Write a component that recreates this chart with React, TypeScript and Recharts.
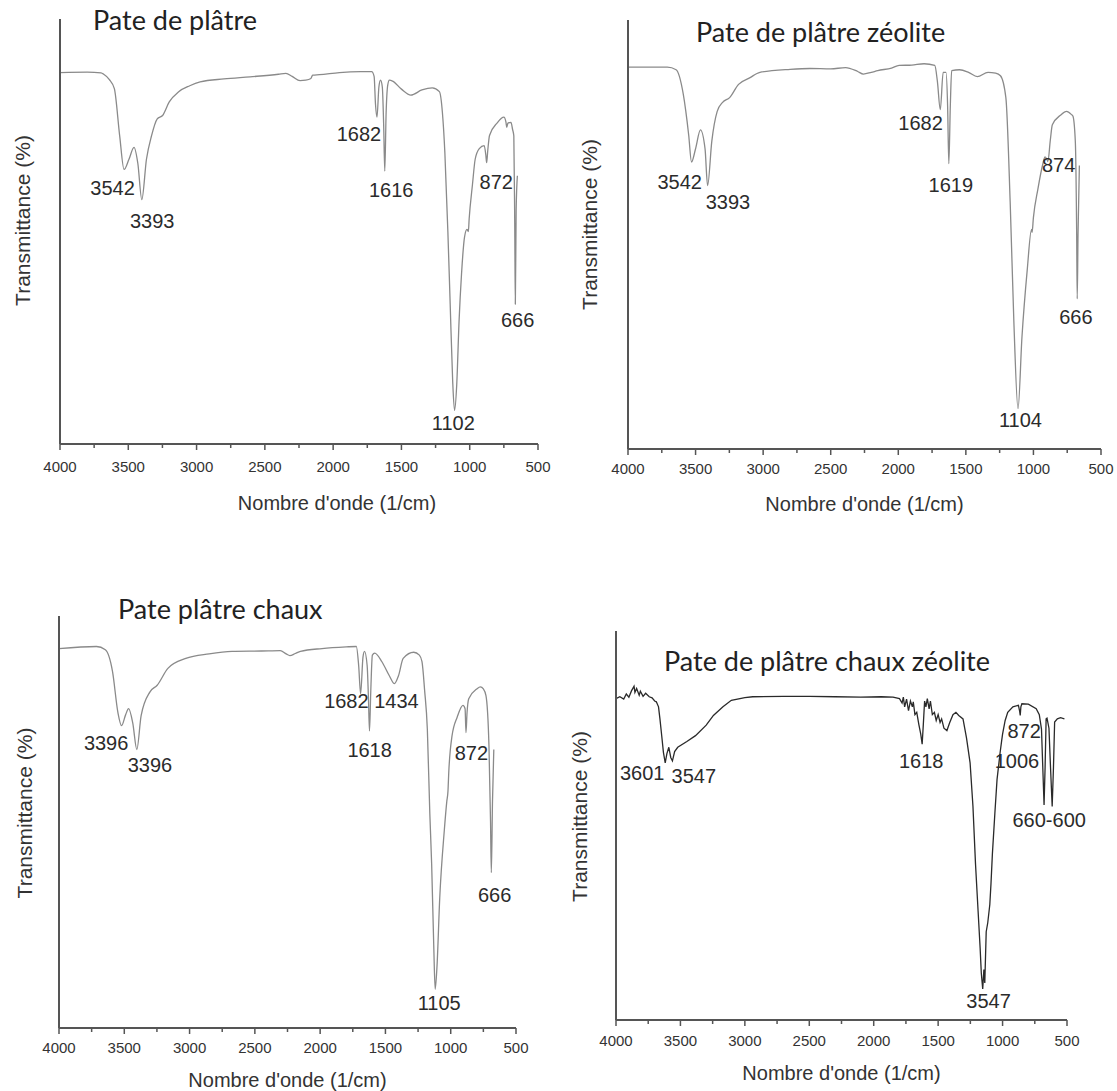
import React from 'react';
import { LineChart, Line, XAxis, YAxis, ReferenceDot, Label } from 'recharts';

// wavenumber ticks (major every 500, minor every 250)
const xTicks = [4000, 3750, 3500, 3250, 3000, 2750, 2500, 2250, 2000, 1750, 1500, 1250, 1000, 750, 500];

// Pate de plâtre
const wn1 = [4000, 3800, 3700, 3680, 3640, 3602, 3563, 3531, 3495, 3458, 3430, 3401, 3367, 3330, 3288, 3249, 3200, 3131, 3050, 2974, 2800, 2608, 2400, 2346, 2300, 2242, 2200, 2163, 2150, 2100, 1954, 1800, 1718, 1700, 1690, 1679, 1665, 1653, 1640, 1630, 1622, 1612, 1600, 1588, 1565, 1500, 1431, 1350, 1274, 1222, 1200, 1182, 1160, 1143, 1125, 1111, 1095, 1078, 1060, 1038, 1020, 1010, 1004, 980, 960, 930, 894, 882, 876, 868, 855, 800, 750, 735, 729, 720, 698, 686, 677, 670, 666, 660, 651];
const t1 = [87.4, 87.5, 87.3, 87.0, 85.8, 83.6, 72.5, 64.6, 67.0, 69.8, 66.0, 57.5, 67.0, 72.5, 76.5, 77.3, 80.5, 82.9, 84.3, 85.2, 85.9, 86.4, 87.0, 87.2, 86.5, 85.5, 85.6, 86.0, 86.8, 86.9, 87.4, 87.6, 87.6, 86.5, 80.0, 76.9, 84.0, 85.6, 84.0, 75.0, 64.2, 78.0, 84.5, 85.6, 85.4, 83.5, 82.1, 83.3, 83.8, 82.9, 78.0, 68.6, 50.0, 32.9, 15.0, 7.9, 14.0, 28.9, 40.0, 48.7, 50.5, 50.0, 53.0, 61.0, 67.0, 69.5, 70.2, 68.0, 66.2, 69.0, 72.6, 75.5, 76.9, 75.8, 74.5, 75.5, 75.7, 74.0, 72.5, 50.0, 32.9, 55.0, 63.1];
const peaks1 = ['3542', '3393', '1682', '1616', '872', '666', '1102'];
const peakAt1 = [[3615, 60.2], [3325, 52.6], [1811, 72.9], [1575, 59.8], [806, 61.7], [649, 29.3], [1120, 5.0]];

// Pate de plâtre zéolite
const wn2 = [4000, 3709, 3644, 3591, 3551, 3530, 3500, 3464, 3430, 3411, 3380, 3340, 3300, 3248, 3182, 3100, 3024, 2800, 2654, 2500, 2390, 2300, 2258, 2200, 2152, 2050, 1994, 1900, 1809, 1730, 1711, 1689, 1668, 1647, 1635, 1626, 1615, 1605, 1547, 1480, 1415, 1336, 1280, 1244, 1204, 1172, 1145, 1114, 1085, 1046, 1014, 1010, 1000, 967, 930, 914, 900, 893, 875, 860, 800, 755, 720, 708, 690, 680, 676, 670, 660];
const t2 = [89.0, 89.0, 88.4, 82.7, 73.2, 66.9, 70.0, 74.4, 70.0, 61.4, 71.7, 78.7, 80.8, 81.9, 85.0, 86.5, 87.8, 88.5, 88.7, 88.6, 88.9, 88.0, 87.4, 87.8, 88.2, 88.8, 89.4, 89.5, 89.8, 89.4, 85.8, 79.1, 87.8, 87.8, 80.0, 66.5, 80.0, 88.2, 88.4, 87.8, 86.8, 87.8, 87.6, 87.0, 81.9, 57.5, 29.9, 9.4, 26.0, 41.7, 51.2, 50.5, 54.0, 60.6, 66.5, 68.1, 67.5, 67.0, 72.0, 75.6, 77.8, 78.7, 78.0, 77.6, 71.7, 50.0, 35.0, 50.0, 66.1];
const peaks2 = ['3542', '3393', '1682', '1619', '874', '666', '1104'];
const peakAt2 = [[3617, 62.2], [3260, 57.5], [1835, 76.0], [1611, 61.5], [813, 66.2], [686, 30.8], [1096, 6.7]];

// Pate plâtre chaux
const wn3 = [4000, 3713, 3645, 3590, 3549, 3521, 3490, 3467, 3435, 3404, 3371, 3303, 3248, 3166, 3029, 2850, 2675, 2450, 2305, 2260, 2232, 2190, 2151, 1986, 1800, 1723, 1705, 1690, 1672, 1660, 1640, 1630, 1622, 1612, 1600, 1582, 1527, 1470, 1431, 1400, 1364, 1283, 1240, 1220, 1200, 1179, 1160, 1146, 1130, 1119, 1105, 1084, 1049, 1030, 1021, 1015, 990, 950, 906, 890, 883, 875, 862, 800, 773, 750, 730, 707, 695, 689, 680, 670];
const t3 = [92.1, 92.6, 91.8, 86.5, 76.6, 73.4, 76.0, 77.5, 74.0, 67.6, 75.8, 81.6, 83.2, 87.3, 89.7, 90.8, 91.4, 91.5, 91.6, 90.8, 90.4, 90.9, 91.4, 92.1, 92.5, 92.6, 88.0, 81.1, 90.0, 91.4, 88.0, 80.0, 72.1, 82.0, 90.5, 91.0, 88.9, 85.5, 83.6, 85.5, 89.7, 91.2, 90.5, 88.9, 82.0, 72.5, 52.0, 39.8, 20.0, 9.4, 15.0, 31.6, 48.0, 55.0, 57.5, 62.0, 70.9, 75.5, 78.3, 77.5, 71.7, 76.5, 79.9, 82.3, 82.8, 82.3, 80.7, 68.4, 50.0, 37.7, 55.0, 67.6];
const peaks3 = ['3396', '3396', '1682', '1434', '1618', '872', '666', '1105'];
const peakAt3 = [[3639, 69.3], [3303, 63.9], [1799, 79.5], [1416, 79.5], [1621, 67.4], [842, 66.8], [664, 32.4], [1088, 6.1]];

// Pate de plâtre chaux zéolite
const wn4 = [4000, 3970, 3940, 3920, 3900, 3880, 3860, 3853, 3840, 3820, 3811, 3790, 3770, 3742, 3720, 3700, 3687, 3670, 3659, 3645, 3632, 3618, 3605, 3590, 3575, 3562, 3545, 3521, 3450, 3383, 3300, 3244, 3170, 3105, 3000, 2939, 2700, 2496, 2300, 2100, 1942, 1850, 1800, 1780, 1770, 1760, 1745, 1730, 1715, 1700, 1693, 1680, 1666, 1650, 1635, 1624, 1615, 1605, 1595, 1584, 1570, 1560, 1545, 1529, 1515, 1500, 1485, 1473, 1455, 1432, 1410, 1385, 1362, 1340, 1307, 1280, 1252, 1230, 1210, 1190, 1174, 1165, 1154, 1145, 1138, 1127, 1115, 1099, 1090, 1079, 1060, 1043, 1020, 1007, 1000, 980, 960, 920, 877, 868, 863, 858, 850, 800, 739, 715, 698, 688, 678, 670, 662, 655, 640, 628, 615, 605, 596, 575, 550, 520];
const t4 = [82.6, 83.1, 82.5, 83.8, 83.0, 84.6, 85.8, 84.2, 85.2, 83.5, 84.5, 83.2, 84.0, 83.1, 82.8, 82.0, 81.8, 80.5, 77.4, 73.0, 68.8, 66.1, 68.5, 70.1, 67.5, 66.6, 69.0, 70.1, 71.6, 73.1, 75.8, 78.3, 80.5, 82.2, 82.9, 83.1, 83.2, 83.2, 83.1, 83.0, 83.1, 83.0, 82.6, 81.5, 83.0, 80.5, 82.5, 79.5, 82.0, 80.5, 81.8, 78.5, 79.1, 76.0, 73.5, 70.9, 76.0, 82.0, 80.5, 82.6, 80.0, 82.0, 78.5, 79.1, 77.0, 78.5, 76.5, 77.4, 75.0, 74.4, 76.5, 78.5, 79.1, 78.3, 77.4, 72.5, 66.1, 55.0, 40.1, 28.0, 18.4, 12.0, 8.0, 13.0, 9.5, 22.7, 25.0, 29.7, 35.0, 42.7, 53.0, 61.8, 68.5, 71.8, 73.5, 77.0, 79.1, 80.5, 80.9, 79.5, 78.3, 80.5, 81.3, 81.2, 80.0, 78.5, 74.8, 65.0, 55.3, 65.0, 77.4, 77.6, 75.0, 65.0, 54.9, 65.0, 76.6, 77.4, 77.7, 77.4];
const peaks4 = ['3601', '3547', '1618', '872', '1006', '660-600', '3547'];
const peakAt4 = [[3797, 63.5], [3396, 62.7], [1631, 66.6], [833, 74.4], [888, 66.6], [638, 51.4], [1109, 4.9]];

const toRows = (wn: number[], t: number[]) => wn.map((w, i) => ({ wn: w, t: t[i] }));

const AXIS = '#555';
const SANS = '"Liberation Sans", Arial, sans-serif';

const WaveTick = ({ x, y, payload, gap }: any) => {
  const v = payload.value;
  const major = v % 500 === 0;
  return (
    <g>
      <line x1={x} x2={x} y1={y} y2={y + (major ? 6 : 4)} stroke={AXIS} strokeWidth={1.5} />
      {major && (
        <text x={x} y={y + gap} dy="0.35em" textAnchor="middle" fontSize={15} fill="#333" fontFamily={SANS}>
          {v}
        </text>
      )}
    </g>
  );
};

interface PanelProps {
  left: number;
  top: number;
  width: number;
  height: number;
  margin: { top: number; right: number; bottom: number; left: number };
  rows: { wn: number; t: number }[];
  peaks: string[];
  peakAt: number[][];
  stroke: string;
  curve: 'monotone' | 'linear';
  tickGap: number;
  xTitleOffset: number;
  xTitleDx: number;
  yTitleDx: number;
  yTitleDy: number;
}

const Panel = (p: PanelProps) => (
  <div style={{ position: 'absolute', left: p.left, top: p.top }}>
    <LineChart width={p.width} height={p.height} data={p.rows} margin={p.margin}>
      <XAxis
        dataKey="wn"
        type="number"
        domain={[500, 4000]}
        reversed
        ticks={xTicks}
        interval={0}
        height={30}
        tickSize={0}
        tickMargin={0}
        tickLine={false}
        axisLine={{ stroke: AXIS, strokeWidth: 2 }}
        tick={(props: any) => <WaveTick {...props} gap={p.tickGap} />}
      >
        <Label
          value="Nombre d'onde (1/cm)"
          position="bottom"
          offset={p.xTitleOffset}
          dx={p.xTitleDx}
          fontSize={20}
          fill="#333"
          fontFamily={SANS}
        />
      </XAxis>
      <YAxis
        type="number"
        domain={[0, 100]}
        width={10}
        tick={false}
        tickLine={false}
        axisLine={{ stroke: AXIS, strokeWidth: 2 }}
      >
        <Label
          value="Transmittance (%)"
          position="center"
          angle={-90}
          dx={p.yTitleDx}
          dy={p.yTitleDy}
          fontSize={21}
          fill="#333"
          fontFamily={SANS}
        />
      </YAxis>
      <Line
        type={p.curve}
        dataKey="t"
        stroke={p.stroke}
        strokeWidth={1.3}
        dot={false}
        isAnimationActive={false}
      />
      {p.peaks.map((txt, i) => (
        <ReferenceDot
          key={i}
          x={p.peakAt[i][0]}
          y={p.peakAt[i][1]}
          r={0}
          fill="none"
          stroke="none"
          ifOverflow="visible"
          label={{ value: txt, position: 'center', fontSize: 20, fill: '#2b2b2b', fontFamily: SANS }}
        />
      ))}
    </LineChart>
  </div>
);

const titleStyle = (left: number, top: number): React.CSSProperties => ({
  position: 'absolute',
  left,
  top,
  fontFamily: 'Lato, "Open Sans", sans-serif',
  fontSize: 27,
  lineHeight: '28px',
  color: '#222',
  whiteSpace: 'nowrap',
});

export default function App() {
  return (
    <div style={{ position: 'absolute', left: 0, top: 0, width: 1117, height: 1091, background: '#fff', fontFamily: SANS }}>
      <Panel
        left={0} top={0} width={560} height={530}
        margin={{ top: 19, right: 22, bottom: 56, left: 50 }}
        rows={toRows(wn1, t1)} peaks={peaks1} peakAt={peakAt1}
        stroke="#8a8a8a" curve="monotone"
        tickGap={23} xTitleOffset={22} xTitleDx={38} yTitleDx={-32} yTitleDy={-11}
      />
      <Panel
        left={560} top={0} width={557} height={530}
        margin={{ top: 20, right: 16, bottom: 51, left: 58 }}
        rows={toRows(wn2, t2)} peaks={peaks2} peakAt={peakAt2}
        stroke="#8a8a8a" curve="monotone"
        tickGap={20} xTitleOffset={18} xTitleDx={0} yTitleDx={-33} yTitleDy={-10}
      />
      <Panel
        left={0} top={560} width={560} height={531}
        margin={{ top: 56, right: 44, bottom: 33, left: 49 }}
        rows={toRows(wn3, t3)} peaks={peaks3} peakAt={peakAt3}
        stroke="#8a8a8a" curve="monotone"
        tickGap={20} xTitleOffset={15} xTitleDx={0} yTitleDx={-29} yTitleDy={-9}
      />
      <Panel
        left={560} top={560} width={557} height={531}
        margin={{ top: 71, right: 50, bottom: 41, left: 46 }}
        rows={toRows(wn4, t4)} peaks={peaks4} peakAt={peakAt4}
        stroke="#2a2a2a" curve="linear"
        tickGap={21} xTitleOffset={16} xTitleDx={0} yTitleDx={-31} yTitleDy={-9}
      />
      <div style={titleStyle(93, 6)}>Pate de plâtre</div>
      <div style={titleStyle(696, 18)}>Pate de plâtre zéolite</div>
      <div style={titleStyle(118, 595)}>Pate plâtre chaux</div>
      <div style={titleStyle(664, 647)}>Pate de plâtre chaux zéolite</div>
    </div>
  );
}
